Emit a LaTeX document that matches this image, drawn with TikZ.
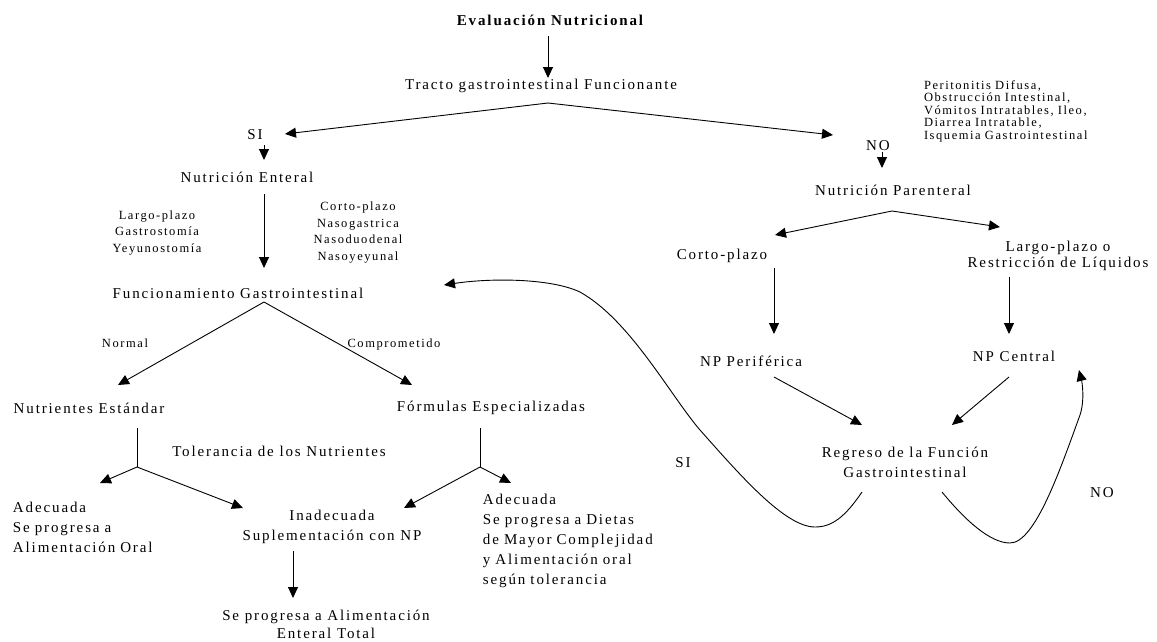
\documentclass[tikz,border=0pt]{standalone}
\usepackage{fontspec}
\setmainfont{Liberation Serif}[LetterSpace=12.5]
\usetikzlibrary{arrows.meta}
\tikzset{%
  >={Triangle[width=10pt,length=11pt]},
  % Specifications for style of nodes:
            base/.style = {inner sep=2pt, align=center,
                           font=\fontsize{15}{20}\selectfont},
         headbox/.style = {base, font=\fontsize{15}{20}\selectfont\bfseries},
         notebox/.style = {base, font=\fontsize{12.5}{16.5}\selectfont},
        causebox/.style = {base, align=left, text width=170pt,
                           font=\fontsize{12.5}{12.5}\selectfont},
         leftbox/.style = {base, align=left},
}

\begin{document}
\begin{tikzpicture}[x=1pt, y=1pt, node distance=70pt, line width=0.9pt]
  \useasboundingbox (-550,20) rectangle (607,-621);
  % Specification of nodes (position, etc.)

  \node (eval)			[headbox] {Evaluación Nutricional};
  \node (tracto)		[base, below of=eval, xshift=-9pt, yshift=4pt] {Tracto gastrointestinal Funcionante};
  \node (si)			[base, below of=tracto, xshift=-286pt, yshift=21pt] {SI};
  \node (no)			[base, below of=tracto, xshift=337pt, yshift=10pt] {NO};
  \node (causas)		[causebox, right of=tracto, xshift=398pt, yshift=-25pt] {Peritonitis Difusa,\\ Obstrucción Intestinal,\\ Vómitos Intratables, Ileo,\\ Diarrea Intratable,\\ Isquemia Gastrointestinal};
  \node (enteral)		[base, below of=si, xshift=-8pt, yshift=28pt] {Nutrición Enteral};
  \node (parenteral)	[base, below of=no, xshift=15pt, yshift=26pt] {Nutrición Parenteral};
  \node (funcgi)		[base, below of=enteral, xshift=-9pt, yshift=-46pt] {Funcionamiento Gastrointestinal};
  \node (largo)			[notebox, below of=enteral, xshift=-90pt, yshift=14pt] {Largo-plazo\\ Gastrostomía\\ Yeyunostomía};
  \node (corto)			[notebox, below of=enteral, xshift=111pt, yshift=14.5pt] {Corto-plazo\\ Nasogastrica\\ Nasoduodenal\\ Nasoyeyunal};
  \node (normal)		[notebox, below of=funcgi, xshift=-113pt, yshift=20pt] {Normal};
  \node (compro)		[notebox, below of=funcgi, xshift=156pt, yshift=19pt] {Comprometido};
  \node (estandar)		[base, below of=funcgi, xshift=-149pt, yshift=-45pt] {Nutrientes Estándar};
  \node (formulas)		[base, below of=funcgi, xshift=253pt, yshift=-45pt] {Fórmulas Especializadas};
  \node (tolera)		[base, below of=estandar, xshift=190pt, yshift=27pt] {Tolerancia de los Nutrientes};
  \node (adecizq)		[leftbox, text width=140pt, below of=estandar, xshift=-6pt, yshift=-49pt] {Adecuada\\ Se progresa a\\ Alimentación Oral};
  \node (inadec)		[base, below of=tolera, xshift=53pt, yshift=-6pt] {Inadecuada\\ Suplementación con NP};
  \node (enteraltot)	[base, font=\fontsize{15}{18}\selectfont, below of=inadec, xshift=-6pt, yshift=-27pt] {Se progresa a Alimentación\\ Enteral Total};
  \node (adecder)		[leftbox, text width=185pt, below of=formulas, xshift=84.5pt, yshift=-63pt] {Adecuada\\ Se progresa a Dietas\\ de Mayor Complejidad\\ y Alimentación oral\\ según tolerancia};
  \node (cortonp)		[base, below of=parenteral, xshift=-171pt, yshift=4pt] {Corto-plazo};
  \node (largonp)		[base, font=\fontsize{15}{16}\selectfont, below of=parenteral, xshift=165pt, yshift=4pt] {Largo-plazo o\\ Restricción de Líquidos};
  \node (periferica)	[base, below of=cortonp, xshift=29pt, yshift=-35pt] {NP Periférica};
  \node (central)		[base, below of=largonp, xshift=-44pt, yshift=-30pt] {NP Central};
  \node (regreso)		[base, below of=periferica, xshift=154pt, yshift=-31pt] {Regreso de la Función\\ Gastrointestinal};
  \node (lblsi)			[base, left of=regreso, xshift=-152pt, yshift=-1pt] {SI};
  \node (lblno)			[base, right of=regreso, xshift=127pt, yshift=-31pt] {NO};

  % ends of the connectors
  \coordinate (evalout)	at (-2,-16);
  \coordinate (forkgi)	at (-2,-83);
  \coordinate (siin)	at (-265,-114);
  \coordinate (noin)	at (283,-115);
  \coordinate (siout)	at (-286,-125);
  \coordinate (noout)	at (332,-132);
  \coordinate (entout)	at (-286,-174);
  \coordinate (forkfg)	at (-286,-282);
  \coordinate (normin)	at (-432,-365);
  \coordinate (compin)	at (-138,-365);
  \coordinate (estout)	at (-413,-408);
  \coordinate (estfork)	at (-413,-447);
  \coordinate (adiin)	at (-450,-463);
  \coordinate (inain)	at (-307,-488);
  \coordinate (forout)	at (-70,-408);
  \coordinate (forfork)	at (-70,-447);
  \coordinate (inbin)	at (-146,-488);
  \coordinate (addin)	at (-39,-463);
  \coordinate (inaout)	at (-257,-531);
  \coordinate (forknp)	at (342,-191);
  \coordinate (cortin)	at (225,-215);
  \coordinate (largin)	at (450,-207);
  \coordinate (cortout)	at (224,-248);
  \coordinate (largout)	at (459,-257);
  \coordinate (perout)	at (224,-357);
  \coordinate (cenout)	at (459,-357);
  \coordinate (regin)	at (312,-405);
  \coordinate (regin2)	at (402,-405);

  \draw[->]		(evalout) -- (evalout |- 0,-58);
  \draw[->]		(forkgi) -- (siin);
  \draw[->]		(forkgi) -- (noin);
  \draw[->]		(siout) -- ++(0,-15);
  \draw[->]		(noout) -- ++(0,-16);
  \draw[->]		(entout) -- ++(0,-74);
  \draw[->]		(forkfg) -- (normin);
  \draw[->]		(forkfg) -- (compin);
  \draw[-]		(estout) -- (estfork);
  \draw[->]		(estfork) -- (adiin);
  \draw[->]		(estfork) -- (inain);
  \draw[-]		(forout) -- (forfork);
  \draw[->]		(forfork) -- (inbin);
  \draw[->]		(forfork) -- (addin);
  \draw[->]		(inaout) -- ++(0,-47);
  \draw[->]		(forknp) -- (cortin);
  \draw[->]		(forknp) -- (largin);
  \draw[->]		(cortout) -- ++(0,-66);
  \draw[->]		(largout) -- ++(0,-57);
  \draw[->]		(perout) -- (regin);
  \draw[->]		(cenout) -- (regin2);
  \draw[->]		(312,-472) .. controls (295,-497) and (282,-507) .. (265,-507)
                .. controls (235,-507) and (190,-455) .. (150,-410)
                .. controls (120,-375) and (80,-300) .. (30,-272)
                .. controls (0,-258) and (-60,-258) .. (-106,-265);
  \draw[->]		(392,-472) .. controls (415,-500) and (440,-523) .. (460,-523)
                .. controls (485,-523) and (510,-450) .. (530,-395)
                .. controls (535,-380) and (532,-362) .. (529,-350);
\end{tikzpicture}
\end{document}
